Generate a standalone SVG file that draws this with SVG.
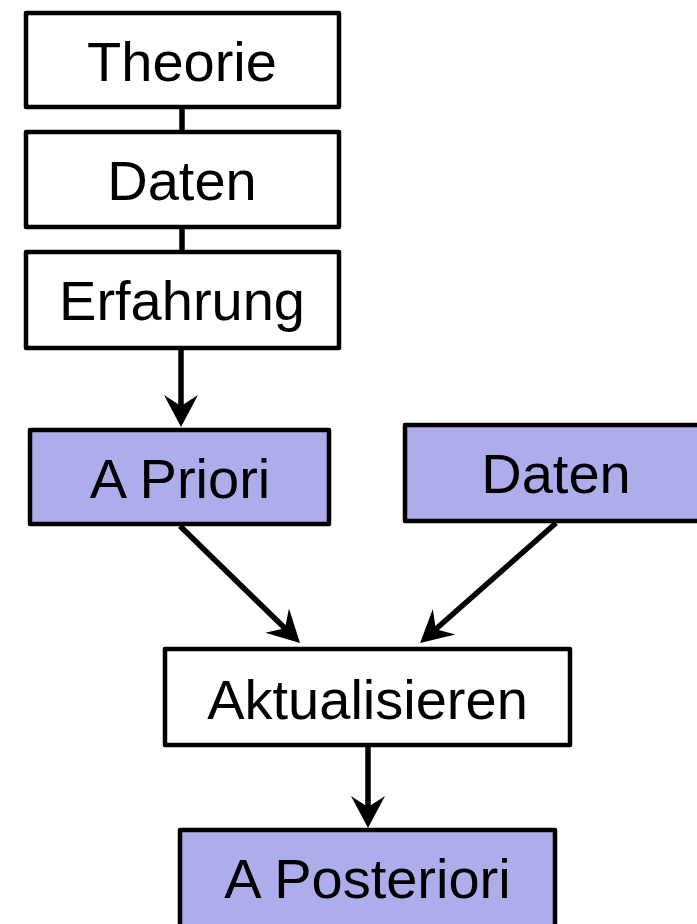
<svg xmlns="http://www.w3.org/2000/svg" width="697" height="924" viewBox="0 0 697 924">
<style>
.box{fill:#fff;stroke:#000;stroke-width:4.5;stroke-linejoin:round}
.hl{fill:#ADADEB}
.lbl{font-family:"Liberation Sans",Arial,sans-serif;font-size:56px;text-anchor:middle;fill:#000}
.ln{stroke:#000;stroke-width:5.5;fill:none}
</style>
<defs>
<marker id="ah" viewBox="-33 -18 35 36" refX="-20" refY="0" markerWidth="35" markerHeight="36" markerUnits="userSpaceOnUse" orient="auto">
<path d="M0,0 L-32,-17 L-21,0 L-32,17 Z" fill="#000"/>
</marker>
</defs>
<g id="connectors">
<line class="ln" x1="182" y1="107" x2="182" y2="133"/>
<line class="ln" x1="182" y1="227" x2="182" y2="253"/>
<line class="ln" x1="181" y1="349" x2="181" y2="407" marker-end="url(#ah)"/>
<line class="ln" x1="180" y1="526" x2="285.7" y2="629" marker-end="url(#ah)"/>
<line class="ln" x1="556" y1="523" x2="435.1" y2="629.8" marker-end="url(#ah)"/>
<line class="ln" x1="368" y1="747" x2="368" y2="808" marker-end="url(#ah)"/>
</g>
<g id="theorie">
<rect class="box" x="26" y="13" width="313" height="94"/>
<text class="lbl" x="182" y="81">Theorie</text>
</g>
<g id="daten1">
<rect class="box" x="26" y="132" width="313" height="95"/>
<text class="lbl" x="182" y="200">Daten</text>
</g>
<g id="erfahrung">
<rect class="box" x="26" y="252" width="313" height="96"/>
<text class="lbl" x="182" y="320">Erfahrung</text>
</g>
<g id="apriori">
<rect class="box hl" x="30" y="430" width="299" height="94"/>
<text class="lbl" x="180" y="498">A Priori</text>
</g>
<g id="daten2">
<rect class="box hl" x="405" y="425" width="300" height="96"/>
<text class="lbl" x="556" y="493">Daten</text>
</g>
<g id="aktualisieren">
<rect class="box" x="165" y="649" width="405" height="96"/>
<text class="lbl" x="367.5" y="719">Aktualisieren</text>
</g>
<g id="aposteriori">
<rect class="box hl" x="180" y="830" width="375" height="110"/>
<text class="lbl" x="367.5" y="898">A Posteriori</text>
</g>
</svg>
